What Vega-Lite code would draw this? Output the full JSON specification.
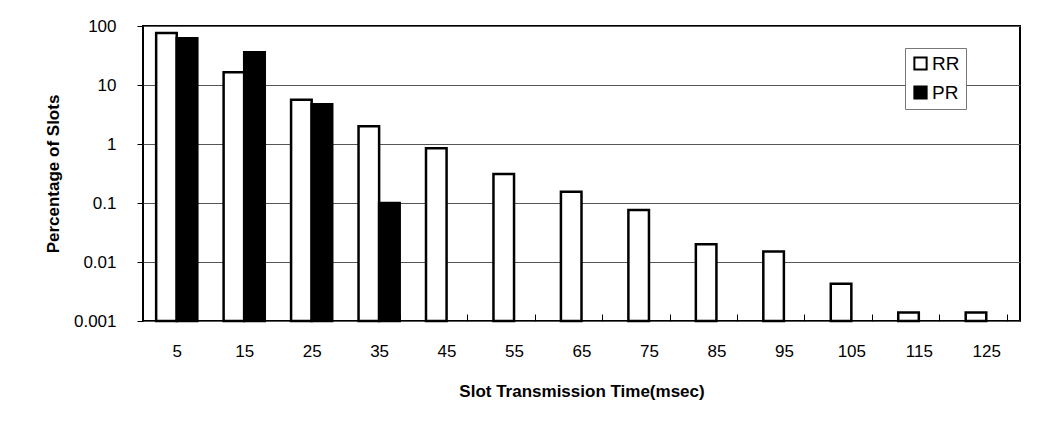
{
  "$schema": "https://vega.github.io/schema/vega-lite/v6.json",
  "autosize": "none",
  "width": 877,
  "height": 295,
  "padding": {"left": 143, "top": 26, "right": 29, "bottom": 107},
  "background": "white",
  "config": {
    "font": "Liberation Sans",
    "view": {"stroke": "black", "strokeWidth": 2}
  },
  "data": {
    "values": [
      {"time": 5, "series": "RR", "pct": 76},
      {"time": 5, "series": "PR", "pct": 62},
      {"time": 15, "series": "RR", "pct": 16.5},
      {"time": 15, "series": "PR", "pct": 36},
      {"time": 25, "series": "RR", "pct": 5.6},
      {"time": 25, "series": "PR", "pct": 4.7},
      {"time": 35, "series": "RR", "pct": 2.0},
      {"time": 35, "series": "PR", "pct": 0.1},
      {"time": 45, "series": "RR", "pct": 0.85},
      {"time": 55, "series": "RR", "pct": 0.31},
      {"time": 65, "series": "RR", "pct": 0.155},
      {"time": 75, "series": "RR", "pct": 0.076},
      {"time": 85, "series": "RR", "pct": 0.02},
      {"time": 95, "series": "RR", "pct": 0.015},
      {"time": 105, "series": "RR", "pct": 0.0043},
      {"time": 115, "series": "RR", "pct": 0.0014},
      {"time": 125, "series": "RR", "pct": 0.0014}
    ]
  },
  "mark": {"type": "bar", "stroke": "black", "strokeWidth": 2.5},
  "encoding": {
    "x": {
      "field": "time",
      "type": "ordinal",
      "scale": {"paddingInner": 0.39, "paddingOuter": 0.195},
      "axis": {
        "title": "Slot Transmission Time(msec)",
        "labelAngle": 0,
        "labelFontSize": 17,
        "labelColor": "black",
        "labelPadding": 22,
        "titleFontSize": 17,
        "titleFontWeight": "bold",
        "titleColor": "black",
        "titlePadding": 24,
        "tickBand": "extent",
        "tickSize": 7,
        "offset": -7,
        "tickColor": "black",
        "tickWidth": 1,
        "domain": false
      }
    },
    "xOffset": {
      "field": "series",
      "type": "nominal",
      "sort": ["RR", "PR"],
      "scale": {"paddingInner": 0, "paddingOuter": 0}
    },
    "y": {
      "field": "pct",
      "type": "quantitative",
      "scale": {"type": "log", "domain": [0.001, 100]},
      "axis": {
        "title": "Percentage of Slots",
        "values": [0.001, 0.01, 0.1, 1, 10, 100],
        "format": "~g",
        "labelFontSize": 17,
        "labelColor": "black",
        "labelPadding": 21,
        "titleFontSize": 17,
        "titleFontWeight": "bold",
        "titleColor": "black",
        "titlePadding": 11,
        "tickSize": 6,
        "tickColor": "black",
        "grid": true,
        "gridColor": "#555555",
        "gridWidth": 1,
        "domain": false
      }
    },
    "y2": {"datum": 0.001},
    "fill": {
      "field": "series",
      "type": "nominal",
      "sort": ["RR", "PR"],
      "scale": {"domain": ["RR", "PR"], "range": ["white", "black"]},
      "legend": {
        "title": null,
        "orient": "none",
        "legendX": 762,
        "legendY": 22,
        "symbolType": "square",
        "symbolSize": 150,
        "symbolStrokeColor": "black",
        "symbolStrokeWidth": 2,
        "labelFontSize": 19,
        "labelColor": "black",
        "labelOffset": 2,
        "rowPadding": 8,
        "padding": 6,
        "strokeColor": "#777777",
        "fillColor": "white"
      }
    }
  }
}
